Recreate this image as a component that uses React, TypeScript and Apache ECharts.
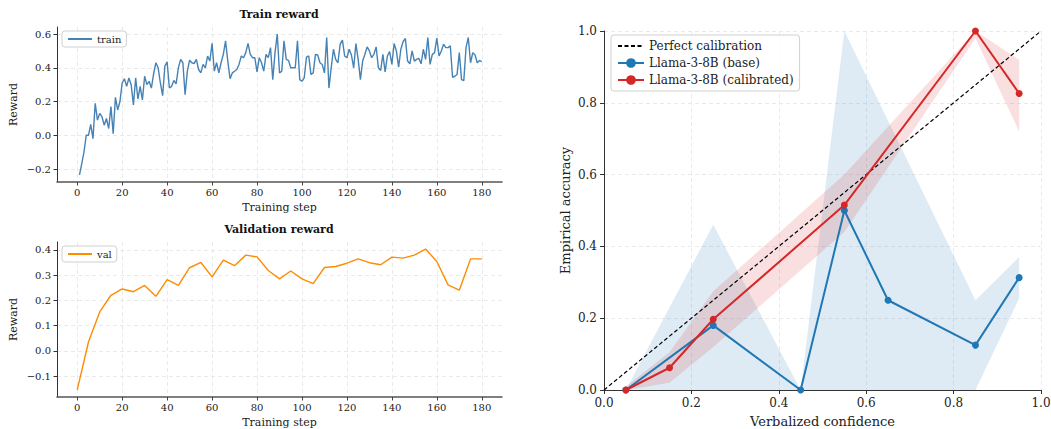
import React, { useEffect, useRef } from "react";
import * as echarts from "echarts";

const FONT = "DejaVu Serif";

// Train reward, steps 1..180
const TRAIN_REWARD = [
  -0.235, -0.17, -0.1, 0.0, 0.0, 0.065, -0.02, 0.19, 0.09, 0.13,
  0.11, 0.06, 0.1, 0.04, 0.17, 0.01, 0.225, 0.15, 0.2, 0.31,
  0.335, 0.29, 0.34, 0.3, 0.18, 0.34, 0.215, 0.29, 0.21, 0.35,
  0.3, 0.32, 0.28, 0.365, 0.43, 0.4, 0.31, 0.235, 0.41, 0.435,
  0.28, 0.29, 0.325, 0.305, 0.4, 0.45, 0.43, 0.24, 0.38, 0.445,
  0.43, 0.425, 0.45, 0.39, 0.37, 0.42, 0.4, 0.47, 0.44, 0.545,
  0.38, 0.43, 0.37, 0.43, 0.48, 0.56, 0.44, 0.335, 0.37, 0.38,
  0.39, 0.42, 0.47, 0.46, 0.49, 0.545, 0.48, 0.46, 0.46, 0.376,
  0.46, 0.43, 0.38, 0.48, 0.46, 0.52, 0.33, 0.49, 0.6, 0.37,
  0.38, 0.56, 0.45, 0.444, 0.4, 0.4, 0.4, 0.56, 0.33, 0.32,
  0.34, 0.464, 0.47, 0.36, 0.37, 0.48, 0.476, 0.43, 0.42, 0.37,
  0.58, 0.28, 0.4, 0.51, 0.45, 0.43, 0.54, 0.564, 0.47, 0.46,
  0.51, 0.476, 0.4, 0.544, 0.45, 0.33, 0.44, 0.48, 0.524, 0.5,
  0.46, 0.48, 0.524, 0.4, 0.384, 0.48, 0.376, 0.47, 0.496, 0.42,
  0.544, 0.5, 0.404, 0.51, 0.556, 0.574, 0.44, 0.424, 0.5, 0.44,
  0.45, 0.456, 0.424, 0.51, 0.45, 0.58, 0.42, 0.48, 0.49, 0.576,
  0.47, 0.5, 0.54, 0.52, 0.52, 0.53, 0.344, 0.35, 0.36, 0.49,
  0.33, 0.324, 0.52, 0.58, 0.43, 0.49, 0.476, 0.43, 0.444, 0.436,
];

// Validation reward, every 5 steps from 0 to 180
const VAL_REWARD = [
  -0.155, 0.035, 0.154, 0.22, 0.245, 0.234, 0.259, 0.216, 0.282, 0.259,
  0.329, 0.35, 0.293, 0.359, 0.337, 0.379, 0.372, 0.318, 0.285, 0.316,
  0.285, 0.266, 0.33, 0.334, 0.347, 0.364, 0.349, 0.341, 0.371, 0.367,
  0.379, 0.403, 0.354, 0.261, 0.24, 0.364, 0.364,
];

const STEP_TICKS = [0, 20, 40, 60, 80, 100, 120, 140, 160, 180];
const TRAIN_Y_TICKS = [-0.2, 0, 0.2, 0.4, 0.6];
const VAL_Y_TICKS = [-0.1, 0, 0.1, 0.2, 0.3, 0.4];

// Calibration
const BINS_BASE = [0.05, 0.25, 0.45, 0.55, 0.65, 0.85, 0.95];
const ACC_BASE = [0.0, 0.18, 0.0, 0.5, 0.25, 0.125, 0.313];
const BASE_LO = [0.0, 0.0, 0.0, 0.0, 0.0, 0.0, 0.255];
const BASE_HI = [0.0, 0.46, 0.0, 1.0, 0.75, 0.25, 0.37];

const BINS_CAL = [0.05, 0.15, 0.25, 0.55, 0.85, 0.95];
const ACC_CAL = [0.0, 0.062, 0.197, 0.515, 1.0, 0.826];
const CAL_LO = [0.0, 0.02, 0.12, 0.44, 0.98, 0.72];
const CAL_HI = [0.01, 0.105, 0.275, 0.6, 1.0, 0.92];

const PERFECT = [
  [0, 0],
  [1, 1],
];

const fmt1 = (v: number) => (v < 0 ? "\u2212" + Math.abs(v).toFixed(1) : v.toFixed(1));

const gridLine = { show: true, lineStyle: { color: "#e4e4e4", type: [4, 3] as any, width: 0.8 } };

function leftX(gridIndex: number) {
  return {
    type: "value",
    gridIndex,
    min: -9,
    max: 189,
    name: "Training step",
    nameLocation: "middle",
    nameGap: 20,
    nameTextStyle: { fontFamily: FONT, fontSize: 11, color: "#222" },
    axisLine: { show: true, onZero: false, lineStyle: { color: "#555", width: 1.5 } },
    axisTick: { show: true, length: 3.5, customValues: STEP_TICKS, lineStyle: { color: "#444" } },
    axisLabel: { customValues: STEP_TICKS, fontFamily: FONT, fontSize: 10, color: "#222", margin: 5 },
    splitLine: gridLine,
  };
}

function leftY(gridIndex: number, min: number, max: number, ticks: number[]) {
  return {
    type: "value",
    gridIndex,
    min,
    max,
    name: "Reward",
    nameLocation: "middle",
    nameGap: 38,
    nameTextStyle: { fontFamily: FONT, fontSize: 11, color: "#222" },
    axisLine: { show: true, onZero: false, lineStyle: { color: "#333", width: 1 } },
    axisTick: { show: true, length: 3.5, customValues: ticks, lineStyle: { color: "#333" } },
    axisLabel: { customValues: ticks, fontFamily: FONT, fontSize: 10, color: "#222", margin: 6, formatter: fmt1 },
    splitLine: gridLine,
  };
}

function bandSeries(xs: number[], lo: number[], hi: number[], fill: string) {
  return {
    type: "custom",
    xAxisIndex: 2,
    yAxisIndex: 2,
    silent: true,
    clip: true,
    z: 1,
    data: [[0.5, 0.5]],
    renderItem: (_params: any, api: any) => {
      const pts: number[][] = [];
      for (let i = 0; i < xs.length; i++) pts.push(api.coord([xs[i], hi[i]]));
      for (let i = xs.length - 1; i >= 0; i--) pts.push(api.coord([xs[i], lo[i]]));
      return { type: "polygon", shape: { points: pts }, style: { fill } };
    },
  };
}

function buildOption() {
  const trainData = TRAIN_REWARD.map((v, i) => [i + 1, v]);
  const valData = VAL_REWARD.map((v, i) => [i * 5, v]);
  const baseData = BINS_BASE.map((x, i) => [x, ACC_BASE[i]]);
  const calData = BINS_CAL.map((x, i) => [x, ACC_CAL[i]]);

  const legendBox = {
    orient: "vertical",
    borderColor: "#d0d0d0",
    borderWidth: 1,
    borderRadius: 3,
    backgroundColor: "rgba(255,255,255,0.85)",
  };
  const noSymbol = { opacity: 0 };

  return {
    animation: false,
    backgroundColor: "#fff",
    title: [
      {
        text: "Train reward",
        left: 279,
        top: 9,
        textAlign: "center",
        padding: 0,
        textStyle: { fontFamily: FONT, fontSize: 11, fontWeight: "bold", color: "#111" },
      },
      {
        text: "Validation reward",
        left: 279,
        top: 224,
        textAlign: "center",
        padding: 0,
        textStyle: { fontFamily: FONT, fontSize: 11, fontWeight: "bold", color: "#111" },
      },
    ],
    legend: [
      {
        ...legendBox,
        data: [{ name: "train", itemStyle: noSymbol }],
        left: 62,
        top: 31,
        padding: [3, 5, 3, 5],
        itemWidth: 24,
        itemHeight: 8,
        textStyle: { fontFamily: FONT, fontSize: 10, color: "#222" },
      },
      {
        ...legendBox,
        data: [{ name: "val", itemStyle: noSymbol }],
        left: 62,
        top: 246,
        padding: [3, 5, 3, 5],
        itemWidth: 24,
        itemHeight: 8,
        textStyle: { fontFamily: FONT, fontSize: 10, color: "#222" },
      },
      {
        ...legendBox,
        data: [
          { name: "Perfect calibration", itemStyle: noSymbol },
          "Llama-3-8B (base)",
          "Llama-3-8B (calibrated)",
        ],
        left: 611,
        top: 35,
        padding: [5, 6, 5, 6],
        itemGap: 5,
        itemWidth: 26,
        itemHeight: 12,
        textStyle: { fontFamily: FONT, fontSize: 12, color: "#222" },
      },
    ],
    grid: [
      { left: 57, top: 27, width: 445, height: 155, outerBoundsMode: "none", containLabel: false },
      { left: 57, top: 242, width: 445, height: 155, outerBoundsMode: "none", containLabel: false },
      { left: 604, top: 31, width: 437, height: 359, outerBoundsMode: "none", containLabel: false },
    ],
    xAxis: [
      leftX(0),
      leftX(1),
      {
        type: "value",
        gridIndex: 2,
        min: 0,
        max: 1,
        interval: 0.2,
        name: "Verbalized confidence",
        nameLocation: "middle",
        nameGap: 25,
        nameTextStyle: { fontFamily: FONT, fontSize: 13, color: "#222" },
        axisLine: { show: true, onZero: false, lineStyle: { color: "#333", width: 1 } },
        axisTick: { show: true, length: 4, lineStyle: { color: "#333" } },
        axisLabel: { fontFamily: FONT, fontSize: 12, color: "#222", margin: 7, formatter: fmt1 },
        splitLine: gridLine,
      },
    ],
    yAxis: [
      leftY(0, -0.277, 0.642, TRAIN_Y_TICKS),
      leftY(1, -0.183, 0.431, VAL_Y_TICKS),
      {
        type: "value",
        gridIndex: 2,
        min: 0,
        max: 1,
        interval: 0.2,
        name: "Empirical accuracy",
        nameLocation: "middle",
        nameGap: 32,
        nameTextStyle: { fontFamily: FONT, fontSize: 13, color: "#222" },
        axisLine: { show: true, onZero: false, lineStyle: { color: "#333", width: 1 } },
        axisTick: { show: true, length: 4, lineStyle: { color: "#333" } },
        axisLabel: { fontFamily: FONT, fontSize: 12, color: "#222", margin: 7, formatter: fmt1 },
        splitLine: gridLine,
      },
    ],
    series: [
      {
        name: "train",
        type: "line",
        xAxisIndex: 0,
        yAxisIndex: 0,
        data: trainData,
        symbol: "none",
        color: "#4682b4",
        lineStyle: { width: 1.4, color: "#4682b4" },
      },
      {
        name: "val",
        type: "line",
        xAxisIndex: 1,
        yAxisIndex: 1,
        data: valData,
        symbol: "none",
        color: "#ff8c00",
        lineStyle: { width: 1.4, color: "#ff8c00" },
      },
      bandSeries(BINS_BASE, BASE_LO, BASE_HI, "rgba(31,119,180,0.15)"),
      bandSeries(BINS_CAL, CAL_LO, CAL_HI, "rgba(214,39,40,0.15)"),
      {
        name: "Perfect calibration",
        type: "line",
        xAxisIndex: 2,
        yAxisIndex: 2,
        data: PERFECT,
        symbol: "none",
        color: "#000",
        lineStyle: { width: 1.2, color: "#000", type: [4, 2.5] },
        z: 3,
      },
      {
        name: "Llama-3-8B (base)",
        type: "line",
        xAxisIndex: 2,
        yAxisIndex: 2,
        data: baseData,
        symbol: "circle",
        symbolSize: 7,
        color: "#1f77b4",
        lineStyle: { width: 2, color: "#1f77b4" },
        itemStyle: { color: "#1f77b4" },
        clip: false,
        z: 4,
      },
      {
        name: "Llama-3-8B (calibrated)",
        type: "line",
        xAxisIndex: 2,
        yAxisIndex: 2,
        data: calData,
        symbol: "circle",
        symbolSize: 7,
        color: "#d62728",
        lineStyle: { width: 2, color: "#d62728" },
        itemStyle: { color: "#d62728" },
        clip: false,
        z: 5,
      },
    ],
  };
}

export default function App() {
  const ref = useRef<HTMLDivElement>(null);
  useEffect(() => {
    if (!ref.current) return;
    const chart = echarts.init(ref.current, null, { renderer: "svg" });
    chart.setOption(buildOption() as any);
    return () => chart.dispose();
  }, []);
  return (
    <div
      ref={ref}
      style={{ position: "absolute", left: 0, top: 0, width: 1051, height: 429, background: "#fff" }}
    />
  );
}
